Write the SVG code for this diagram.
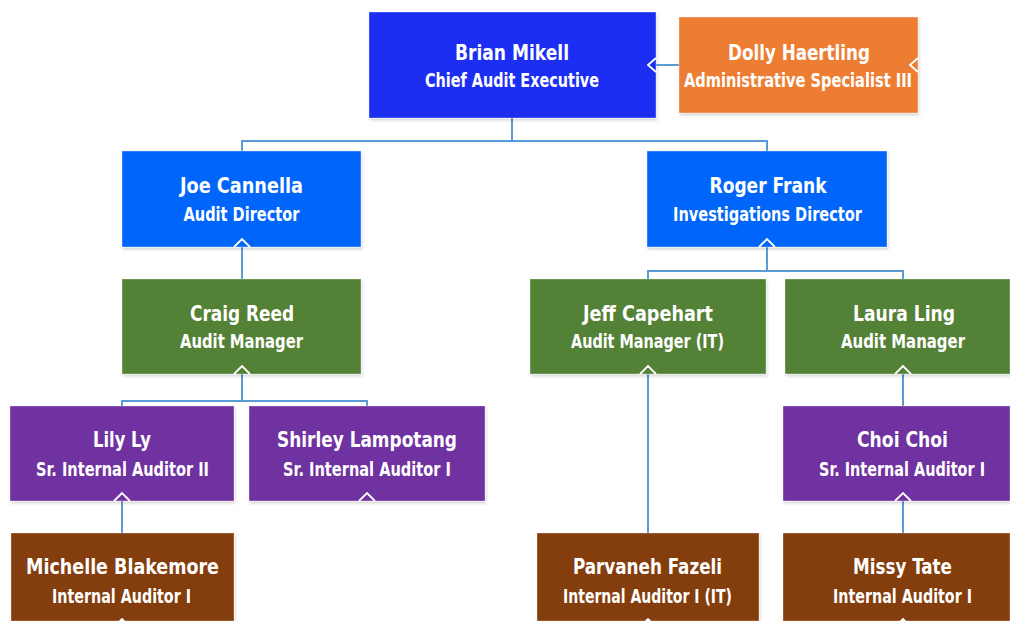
<svg xmlns="http://www.w3.org/2000/svg" width="1010" height="621" viewBox="0 0 1010 621">
<defs>
<filter id="sh" x="-5%" y="-5%" width="110%" height="115%">
<feDropShadow dx="1" dy="2" stdDeviation="1.5" flood-color="#000" flood-opacity="0.18"/>
</filter>
<style>
.box{filter:url(#sh);stroke-width:1;stroke-opacity:0.35;stroke:#ffffff}
.ceo{fill:#1A2EF2}
.dir{fill:#0466FB}
.adm{fill:#ED7D31}
.mgr{fill:#538135}
.sr{fill:#7030A0}
.ia{fill:#843C0C}
.nm{font-family:"DejaVu Sans Condensed","DejaVu Sans",sans-serif;font-weight:bold;font-size:22px;fill:#fff;text-anchor:middle}
.tl{font-family:"DejaVu Sans Condensed","DejaVu Sans",sans-serif;font-weight:bold;font-size:19.5px;fill:#fff;text-anchor:middle}
.ln{fill:none;stroke:#5B9BD5;stroke-width:2}
.ch{fill:none;stroke:#fff;stroke-width:1.8;stroke-linejoin:miter}
</style>
</defs>
<rect width="1010" height="621" fill="#fff"/>
<g id="connectors">
<path class="ln" d="M512,118 V141 M242,151 V141 H767 V151"/>
<path class="ln" d="M679,65 H656"/>
<path class="ln" d="M242,247 V279"/>
<path class="ln" d="M242,374 V401 M122,406 V401 H367 V406"/>
<path class="ln" d="M767,247 V271 M648,279 V271 H903 V279"/>
<path class="ln" d="M648,374 V533"/>
<path class="ln" d="M903,374 V406"/>
<path class="ln" d="M122,501 V533"/>
<path class="ln" d="M903,501 V533"/>
</g>
<g id="brian"><rect class="box ceo" x="369" y="12" width="287" height="106"/>
<text class="nm" x="512" y="60" textLength="114" lengthAdjust="spacingAndGlyphs">Brian Mikell</text>
<text class="tl" x="512" y="87" textLength="174" lengthAdjust="spacingAndGlyphs">Chief Audit Executive</text></g>
<g id="dolly"><rect class="box adm" x="679" y="17" width="239" height="96"/>
<text class="nm" x="799" y="60" textLength="142" lengthAdjust="spacingAndGlyphs">Dolly Haertling</text>
<text class="tl" x="798" y="87" textLength="228" lengthAdjust="spacingAndGlyphs">Administrative Specialist III</text></g>
<g id="joe"><rect class="box dir" x="122" y="151" width="239" height="96"/>
<text class="nm" x="241.5" y="193" textLength="123" lengthAdjust="spacingAndGlyphs">Joe Cannella</text>
<text class="tl" x="241.5" y="221" textLength="116" lengthAdjust="spacingAndGlyphs">Audit Director</text></g>
<g id="roger"><rect class="box dir" x="647" y="151" width="240" height="96"/>
<text class="nm" x="768" y="193" textLength="117" lengthAdjust="spacingAndGlyphs">Roger Frank</text>
<text class="tl" x="767.5" y="221" textLength="189" lengthAdjust="spacingAndGlyphs">Investigations Director</text></g>
<g id="craig"><rect class="box mgr" x="122" y="279" width="239" height="95"/>
<text class="nm" x="242" y="321" textLength="104" lengthAdjust="spacingAndGlyphs">Craig Reed</text>
<text class="tl" x="241.5" y="348" textLength="123" lengthAdjust="spacingAndGlyphs">Audit Manager</text></g>
<g id="jeff"><rect class="box mgr" x="530" y="279" width="236" height="95"/>
<text class="nm" x="648" y="321" textLength="130" lengthAdjust="spacingAndGlyphs">Jeff Capehart</text>
<text class="tl" x="647.5" y="348" textLength="153" lengthAdjust="spacingAndGlyphs">Audit Manager (IT)</text></g>
<g id="laura"><rect class="box mgr" x="785" y="279" width="225" height="95"/>
<text class="nm" x="904" y="321" textLength="102" lengthAdjust="spacingAndGlyphs">Laura Ling</text>
<text class="tl" x="903" y="348" textLength="124" lengthAdjust="spacingAndGlyphs">Audit Manager</text></g>
<g id="lily"><rect class="box sr" x="10" y="406" width="224" height="95"/>
<text class="nm" x="122" y="447" textLength="58" lengthAdjust="spacingAndGlyphs">Lily Ly</text>
<text class="tl" x="122.5" y="476" textLength="173" lengthAdjust="spacingAndGlyphs">Sr. Internal Auditor II</text></g>
<g id="shirley"><rect class="box sr" x="249" y="406" width="236" height="95"/>
<text class="nm" x="367" y="447" textLength="180" lengthAdjust="spacingAndGlyphs">Shirley Lampotang</text>
<text class="tl" x="367" y="476" textLength="168" lengthAdjust="spacingAndGlyphs">Sr. Internal Auditor I</text></g>
<g id="choi"><rect class="box sr" x="783" y="406" width="227" height="95"/>
<text class="nm" x="902.5" y="447" textLength="91" lengthAdjust="spacingAndGlyphs">Choi Choi</text>
<text class="tl" x="902" y="476" textLength="166" lengthAdjust="spacingAndGlyphs">Sr. Internal Auditor I</text></g>
<g id="michelle"><rect class="box ia" x="11" y="533" width="223" height="88"/>
<text class="nm" x="122.5" y="574" textLength="193" lengthAdjust="spacingAndGlyphs">Michelle Blakemore</text>
<text class="tl" x="121.5" y="603" textLength="139" lengthAdjust="spacingAndGlyphs">Internal Auditor I</text></g>
<g id="parvaneh"><rect class="box ia" x="537" y="533" width="222" height="88"/>
<text class="nm" x="647.5" y="574" textLength="149" lengthAdjust="spacingAndGlyphs">Parvaneh Fazeli</text>
<text class="tl" x="647.5" y="603" textLength="169" lengthAdjust="spacingAndGlyphs">Internal Auditor I (IT)</text></g>
<g id="missy"><rect class="box ia" x="783" y="533" width="227" height="88"/>
<text class="nm" x="902.5" y="574" textLength="99" lengthAdjust="spacingAndGlyphs">Missy Tate</text>
<text class="tl" x="902.5" y="603" textLength="139" lengthAdjust="spacingAndGlyphs">Internal Auditor I</text></g>
<g id="arrowheads">
<polyline class="ch" points="656,58 648,65 656,72"/>
<polyline class="ch" points="918,58 910,65 918,72"/>
<polyline class="ch" points="234,247 242,239 250,247"/>
<polyline class="ch" points="759,247 767,239 775,247"/>
<polyline class="ch" points="234,374 242,366 250,374"/>
<polyline class="ch" points="640,374 648,366 656,374"/>
<polyline class="ch" points="895,374 903,366 911,374"/>
<polyline class="ch" points="114,501 122,493 130,501"/>
<polyline class="ch" points="359,501 367,493 375,501"/>
<polyline class="ch" points="895,501 903,493 911,501"/>
<polyline class="ch" points="114,627 122,619 130,627"/>
<polyline class="ch" points="640,627 648,619 656,627"/>
<polyline class="ch" points="895,627 903,619 911,627"/>
</g>
</svg>
